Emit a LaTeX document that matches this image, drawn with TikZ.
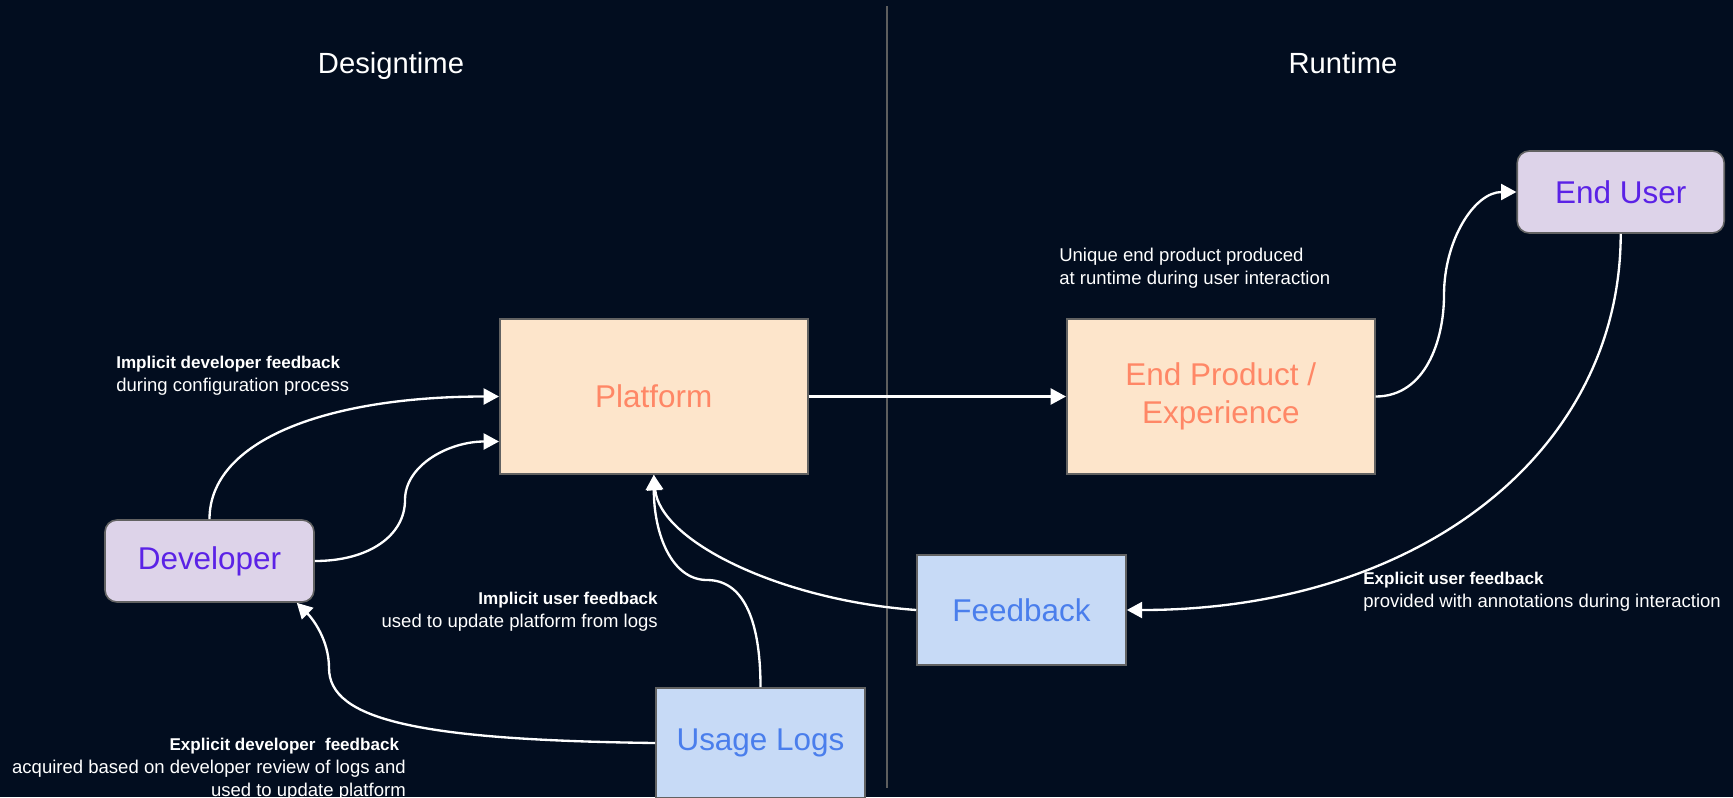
\documentclass[tikz,border=0pt]{standalone}
\usepackage{fontspec}
\setmainfont{Liberation Sans}
\usetikzlibrary{arrows.meta,calc}
\definecolor{bg}{HTML}{020D1F}
\definecolor{boxline}{HTML}{626262}
\definecolor{divline}{HTML}{5E5E5E}
\definecolor{orfill}{HTML}{FDE5CB}
\definecolor{ortext}{HTML}{FF8766}
\definecolor{pufill}{HTML}{DDD3E9}
\definecolor{putext}{HTML}{5B22E6}
\definecolor{blfill}{HTML}{C7DAF6}
\definecolor{bltext}{HTML}{4A7EEC}
\newcommand{\boxfont}{\fontsize{23.6pt}{28.9pt}\selectfont}
\newcommand{\lblfont}{\fontsize{13.9pt}{17.25pt}\selectfont}
\newcommand{\lblbold}{\fontsize{12.8pt}{17.25pt}\selectfont\bfseries}
\begin{document}
\begin{tikzpicture}[x=0.75pt,y=-0.75pt,
  box/.style={draw=boxline, line width=1.2pt, inner sep=0pt, align=center, font=\boxfont},
  orbox/.style={box, fill=orfill, text=ortext, minimum width=231pt, minimum height=116.25pt},
  pubox/.style={box, fill=pufill, text=putext, rounded corners=9pt, minimum height=61.5pt},
  blbox/.style={box, fill=blfill, text=bltext, minimum width=156.75pt, minimum height=82.5pt},
  lbl/.style={text=white, inner sep=0pt, font=\lblfont},
  title/.style={text=white, inner sep=0pt, font=\fontsize{21.9pt}{26pt}\selectfont},
  conn/.style={draw=white, line width=1.75pt, -{Triangle[length=11.5pt,width=12pt]}}
]
\fill[bg] (0,0) rectangle (1733,797);
\useasboundingbox (0,0) rectangle (1733,797);
\begin{scope}
\clip (0,0) rectangle (1733,797);

% divider
\draw[divline, line width=1.5pt] (887,6) coordinate (dtop) -- (887,788) coordinate (dbot);

% titles
\node[title, anchor=base] (tdesign) at (391,73) {Designtime};
\node[title, anchor=base] (truntime) at (1343,73) {Runtime};

% boxes
\node[orbox] (plat) at (653.8,396.5) {Platform};
\node[orbox] (ep) at (1220.8,396.5) {End Product /\\Experience};
\node[pubox, minimum width=155.25pt] (eu) at (1620.7,192) {End User};
\node[pubox, minimum width=156.75pt] (dev) at (209.5,561) {Developer};
\node[blbox] (fb) at (1021.5,610) {Feedback};
\node[blbox] (logs) at (760.5,743) {Usage Logs};

% labels (anchor at baseline of last line)
\node[lbl, anchor=base west, align=left] (l1) at (116,391)
  {{\lblbold Implicit developer feedback}\\during configuration process};
\node[lbl, anchor=base west, align=left] (l2) at (1059,284)
  {Unique end product produced\\at runtime during user interaction};
\node[lbl, anchor=base east, align=right] (l3) at (658,627)
  {{\lblbold Implicit user feedback}\\used to update platform from logs};
\node[lbl, anchor=base east, align=right] (l4) at (406,796)
  {{\lblbold Explicit developer\ \ feedback}\hspace*{5pt}\\acquired based on developer review of logs and\\used to update platform};
\node[lbl, anchor=base west, align=left] (l5) at (1363,607)
  {{\lblbold Explicit user feedback}\\provided with annotations during interaction};

% helper coordinates
\coordinate (platlow) at ($(plat.west)+(0,45)$);
\coordinate (m2) at (405,500);
\coordinate (m3) at (707,580);
\coordinate (m5) at (329,668);
\coordinate (devin) at ($(dev.south east)+(-18,0)$);
\coordinate (m7) at (1444,295);

% connectors
\draw[conn] (dev.north) .. controls +(0,-80) and +(-170,0) .. (plat.west);
\draw[conn] (dev.east) .. controls +(55,0) and +(0,35) .. (m2)
  .. controls +(0,-35) and +(-50,0) .. (platlow);
\draw[conn] (logs.north) .. controls +(0,-70) and +(35,0) .. (m3)
  .. controls +(-35,0) and +(0,60) .. (plat.south);
\draw[conn] (fb.west) .. controls +(-137,-10) and +(6,66) .. (plat.south);
\draw[conn] (logs.west) .. controls +(-236,-3) and +(0,52) .. (m5)
  .. controls +(0,-28) and +(16,16) .. (devin);
\draw[conn] (plat.east) -- (ep.west);
\draw[conn] (ep.east) .. controls +(50,0) and +(0,45) .. (m7)
  .. controls +(0,-55) and +(-42,0) .. (eu.west);
\draw[conn] (eu.south) .. controls +(0,217) and +(294,0) .. (fb.east);
\end{scope}
\end{tikzpicture}
\end{document}
